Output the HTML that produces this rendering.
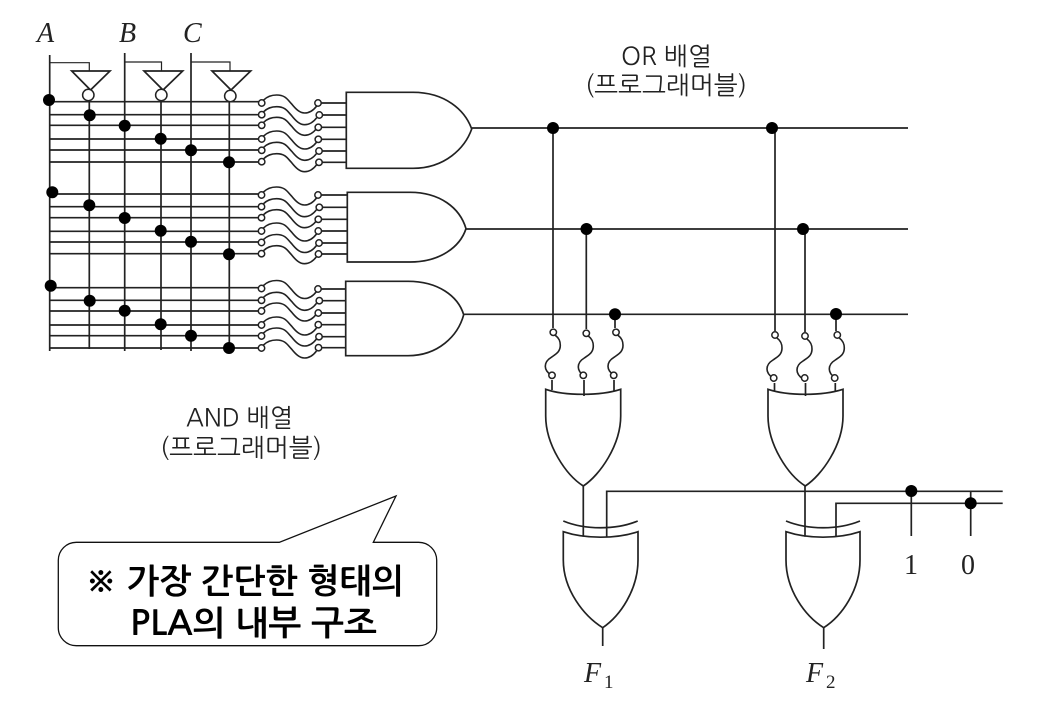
<!DOCTYPE html>
<html lang="ko"><head><meta charset="utf-8"><style>
html,body{margin:0;padding:0;background:#fff;width:1056px;height:714px;overflow:hidden}
svg{display:block}
.l{fill:none;stroke:#222;stroke-width:1.7}
.d{fill:#000}
.c{fill:#fff;stroke:#222;stroke-width:1.5}
.k{font-family:"NanumGothic","Noto Sans CJK KR",sans-serif;font-size:25px;fill:#222}
.b{font-family:"NanumGothic","Noto Sans CJK KR",sans-serif;font-size:34px;font-weight:700;fill:#000}
.s{font-family:"Liberation Serif",serif;fill:#222}
</style></head><body>
<svg width="1056" height="714" viewBox="0 0 1056 714" xmlns="http://www.w3.org/2000/svg">
<defs>
<path id="f" class="l" style="stroke-width:1.6" d="M2,-3C6,-7 10,-8 15,-8C24,-8 26,-3 30,1C34,6 38,10 43,10C48,10 52,7 55,3"/>
<path id="v" class="l" style="stroke-width:1.6" d="M2,3C6,6 7,9 7,13C7,20 2,22 -2,25C-7,28 -8,31 -8,34C-8,38 -5,41 -2,43"/>
</defs>
<g class="l">
<path d="M49.7 55V351M124.7 53V351M191 53V351M89.3 95V349M161 95V350M229.3 96V350"/>
<path style="stroke-width:1.2" d="M49.7 62.7H89.3V71M124.7 62H161.5V71M191 62H230V71"/>
<path d="M71.7 71H110L90.5 90ZM144 71H182.7L163 90ZM212 71H250.7L231 90Z"/>
<path d="M50 101.7H262M50 114.7H262M50 125.3H262M50 139H262M50 150H262M50 162H262"/>
<path d="M50 194H262M50 206.7H262M50 217.7H262M50 231.3H262M50 242H262M50 253.7H262"/>
<path d="M50 287.7H262M50 300.3H262M50 311H262M50 325H262M50 335.7H262M50 348H262"/>
<path d="M320 103H346M322 115H346M322 127.3H346M322 139.3H346M322 151H346M322 162.3H346"/>
<path d="M320 195H347M322 207.3H347M322 219.3H347M322 231H347M322 243H347M322 254H347"/>
<path d="M320 289H346M322 300.7H346M322 313H346M322 324.7H346M322 336.7H346M322 347.7H346"/>
<path d="M346.3 92.3H413C445 92.3 465 110 471.7 129C465 148 445 168.3 413 168.3H346.3Z"/>
<path d="M347.3 192.3H410C440 192.3 460 208 466 228.7C460 247 440 262 410 262H347.3Z"/>
<path d="M345.7 281.3H408C438 281.3 458 296 463.7 314.7C458 336 438 355.7 408 355.7H345.7Z"/>
<path d="M471.7 128H908M466 229H908M463.7 314.3H908"/>
<path d="M553 128V328M586.3 229V329M615 314V328M775 128V331M805 229V332M836 314V331"/>
<path d="M552 380V390M584 380V396M614 380V391M774.5 383V391M805.5 383V396M835.3 383V391"/>
<path d="M545.7 389.3C565 396 600 396 620.7 389.3V416C620.7 445 600 475 583.3 486C566 475 545.7 445 545.7 416Z"/>
<path d="M768 389.3C788 396 822 396 843 389.3V416C843 445 822 475 805.3 486C788 475 768 445 768 416Z"/>
<path d="M583.3 486V536.7M805 486V536.7M606.7 537V491.3H1002.7M836 537V503.3H1002.7"/>
<path d="M911.3 491V536M970.7 491V536"/>
<path d="M563.3 521C585 530 616 530 637.7 521M786 521C808 530 838 530 860 521"/>
<path d="M563.3 531.7C585 539 616 539 638 531.7V560C638 590 620 616 602.7 627.7C584 616 563.3 590 563.3 560Z"/>
<path d="M786 531.7C808 539 838 539 860 531.7V560C860 590 842 616 823.7 627.7C805 616 786 590 786 560Z"/>
<path d="M602.7 627.7V646M823.7 627.7V649"/>
</g>
<g class="c">
<circle cx="88.3" cy="95" r="5.7"/><circle cx="161.3" cy="95" r="5.7"/><circle cx="230.3" cy="96" r="5.7"/>
</g>
<g id="fuses">
<use href="#f" x="261.7" y="103"/><use href="#f" x="261.7" y="114.7"/><use href="#f" x="261.7" y="125.3"/><use href="#f" x="261.7" y="139"/><use href="#f" x="261.7" y="150.3"/><use href="#f" x="261.7" y="161.7"/>
<use href="#f" x="261.5" y="195"/><use href="#f" x="261.5" y="206.7"/><use href="#f" x="261.5" y="217.7"/><use href="#f" x="261.5" y="231"/><use href="#f" x="261.5" y="242.5"/><use href="#f" x="261.5" y="253.7"/>
<use href="#f" x="261.5" y="288.5"/><use href="#f" x="261.5" y="300.3"/><use href="#f" x="261.5" y="311"/><use href="#f" x="261.5" y="325"/><use href="#f" x="261.5" y="336"/><use href="#f" x="261.5" y="348"/>
<use href="#v" x="553.3" y="332.3"/><use href="#v" x="586.3" y="333"/><use href="#v" x="616" y="332.3"/>
<use href="#v" x="775" y="335"/><use href="#v" x="805" y="336"/><use href="#v" x="837.3" y="335"/>
</g>
<g class="c" id="small">
<circle cx="261.7" cy="103" r="3.2"/><circle cx="261.7" cy="114.7" r="3.2"/><circle cx="261.7" cy="125.3" r="3.2"/><circle cx="261.7" cy="139" r="3.2"/><circle cx="261.7" cy="150.3" r="3.2"/><circle cx="261.7" cy="161.7" r="3.2"/>
<circle cx="318" cy="103" r="3.2"/><circle cx="319.3" cy="115" r="3.2"/><circle cx="318.3" cy="127.3" r="3.2"/><circle cx="318.3" cy="139.3" r="3.2"/><circle cx="319" cy="151" r="3.2"/><circle cx="319" cy="162.3" r="3.2"/>
<circle cx="261.5" cy="195" r="3.2"/><circle cx="261.5" cy="206.7" r="3.2"/><circle cx="261.5" cy="217.7" r="3.2"/><circle cx="261.5" cy="231" r="3.2"/><circle cx="261.5" cy="242.5" r="3.2"/><circle cx="261.5" cy="253.7" r="3.2"/>
<circle cx="318" cy="195" r="3.2"/><circle cx="319.3" cy="207.3" r="3.2"/><circle cx="318.3" cy="219.3" r="3.2"/><circle cx="318.3" cy="231" r="3.2"/><circle cx="319" cy="243" r="3.2"/><circle cx="318.5" cy="254" r="3.2"/>
<circle cx="261.5" cy="288.5" r="3.2"/><circle cx="261.5" cy="300.3" r="3.2"/><circle cx="261.5" cy="311" r="3.2"/><circle cx="261.5" cy="325" r="3.2"/><circle cx="261.5" cy="336" r="3.2"/><circle cx="261.5" cy="348" r="3.2"/>
<circle cx="318" cy="289" r="3.2"/><circle cx="319.3" cy="300.7" r="3.2"/><circle cx="318.3" cy="313" r="3.2"/><circle cx="318.3" cy="324.7" r="3.2"/><circle cx="319" cy="336.7" r="3.2"/><circle cx="318.5" cy="347.7" r="3.2"/>
<circle cx="553.3" cy="332.3" r="3.2"/><circle cx="586.3" cy="333.3" r="3.2"/><circle cx="616" cy="332.3" r="3.2"/>
<circle cx="552" cy="375.3" r="3.2"/><circle cx="583.3" cy="375.3" r="3.2"/><circle cx="613.7" cy="375.3" r="3.2"/>
<circle cx="775" cy="335" r="3.2"/><circle cx="805" cy="336" r="3.2"/><circle cx="837.3" cy="335" r="3.2"/>
<circle cx="773.7" cy="378" r="3.2"/><circle cx="804.7" cy="378" r="3.2"/><circle cx="834.7" cy="378" r="3.2"/>
</g>
<g class="d">
<circle cx="49" cy="100" r="6"/><circle cx="89.7" cy="115.3" r="6"/><circle cx="124.7" cy="125.7" r="6"/><circle cx="160.7" cy="138.7" r="6"/><circle cx="191" cy="150.3" r="6"/><circle cx="229" cy="162.3" r="6"/>
<circle cx="52.3" cy="192.3" r="6"/><circle cx="89.3" cy="205.3" r="6"/><circle cx="124.7" cy="218" r="6"/><circle cx="160.7" cy="230.7" r="6"/><circle cx="191" cy="241.7" r="6"/><circle cx="229" cy="254.3" r="6"/>
<circle cx="50.7" cy="285.7" r="6"/><circle cx="89.7" cy="300.7" r="6"/><circle cx="124.7" cy="310.7" r="6"/><circle cx="160.7" cy="324.3" r="6"/><circle cx="191" cy="335.7" r="6"/><circle cx="229" cy="348" r="6"/>
<circle cx="553" cy="128" r="6"/><circle cx="772" cy="128" r="6"/><circle cx="586.5" cy="229" r="6"/><circle cx="803" cy="229" r="6"/><circle cx="615" cy="314.3" r="6"/><circle cx="836" cy="314" r="6"/>
<circle cx="911.3" cy="491" r="6"/><circle cx="970.7" cy="503.3" r="6"/>
</g>
<path d="M76.3 542.3H279.3L396 496L373.3 542.3H418.7A18 18 0 0 1 436.7 560.3V627.7A18 18 0 0 1 418.7 645.7H76.3A18 18 0 0 1 58.3 627.7V560.3A18 18 0 0 1 76.3 542.3Z" fill="#fff" stroke="#111" stroke-width="1.3"/>
<text class="b" x="85" y="593" textLength="319" lengthAdjust="spacingAndGlyphs">※ 가장 간단한 형태의</text>
<text class="b" x="130" y="635" textLength="247" lengthAdjust="spacingAndGlyphs">PLA의 내부 구조</text>
<text class="k" x="621" y="65" textLength="91" lengthAdjust="spacingAndGlyphs">OR 배열</text>
<text class="k" x="585" y="94" textLength="162" lengthAdjust="spacingAndGlyphs">(프로그래머블)</text>
<text class="k" x="186" y="426.5" textLength="107" lengthAdjust="spacingAndGlyphs">AND 배열</text>
<text class="k" x="160" y="456.5" textLength="162" lengthAdjust="spacingAndGlyphs">(프로그래머블)</text>
<g class="s" font-style="italic" font-size="28">
<text x="37" y="42">A</text><text x="119" y="42">B</text><text x="183" y="42">C</text>
<text x="584" y="682">F</text><text x="806" y="682">F</text>
</g>
<g class="s" font-size="19"><text x="604" y="688">1</text><text x="826" y="688">2</text></g>
<g class="s" font-size="28"><text x="904" y="574">1</text><text x="961" y="574">0</text></g>
</svg>
</body></html>
